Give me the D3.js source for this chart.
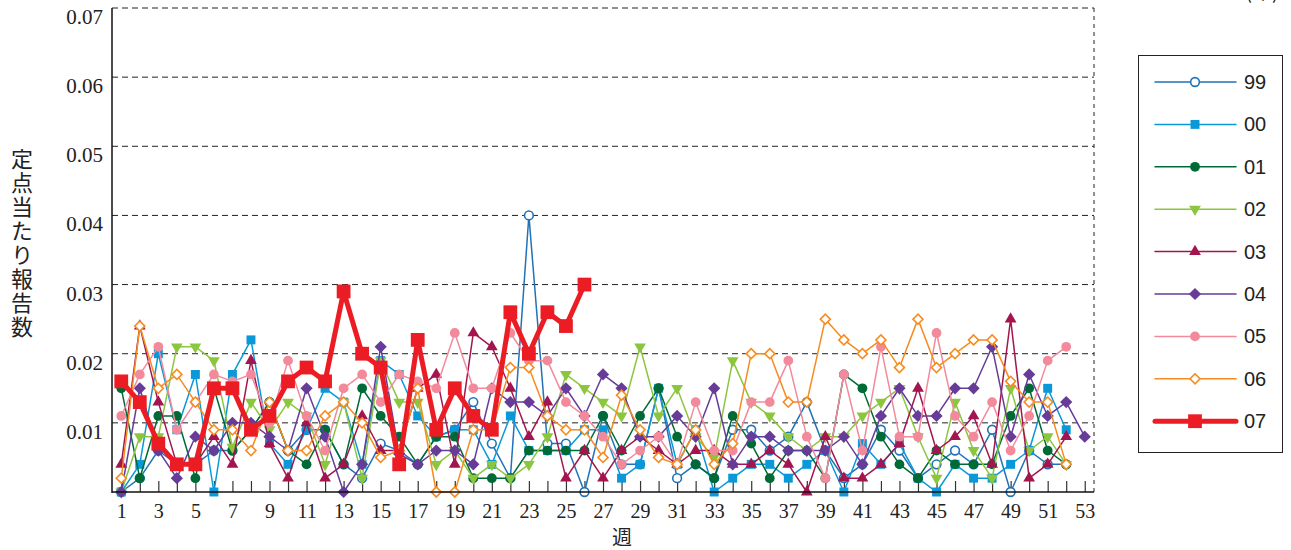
<!DOCTYPE html>
<html>
<head>
<meta charset="utf-8">
<script src="https://cdn.jsdelivr.net/npm/d3@7"></script>
<style>
  body { margin: 0; background: #fff; }
  svg { display: block; }
</style>
</head>
<body>
<div id="chart"></div>
<script>
// week-by-week values (index 0 = week 1)
var s99 = [0, 0.002, 0.006, 0.004, 0.004, 0.006, 0.006, 0.009, 0.013, 0.006, 0.009, 0.009, 0.004, 0.002, 0.007, 0.006, 0.004, 0.008, 0.009, 0.013, 0.007, 0.002, 0.040, 0.007, 0.007, 0, 0.011, 0.004, 0.004, 0.015, 0.002, 0.004, 0.002, 0.009, 0.009, 0.006, 0.008, 0.013, 0.006, 0.002, 0.004, 0.009, 0.006, 0.002, 0.004, 0.006, 0.004, 0.009, 0, 0.006, 0.004, 0.004];
var s00 = [0, 0.004, 0.020, 0.009, 0.017, 0, 0.017, 0.022, 0.007, 0.004, 0.009, 0.015, 0.013, 0.004, 0.019, 0.017, 0.011, 0.008, 0.009, 0.009, 0.004, 0.011, 0.006, 0.006, 0.006, 0.009, 0.009, 0.002, 0.004, 0.015, 0.004, 0.009, 0, 0.002, 0.004, 0.004, 0.002, 0.004, 0.006, 0, 0.007, 0.004, 0.007, 0.002, 0, 0.004, 0.002, 0.002, 0.004, 0.006, 0.015, 0.009];
var s01 = [0.015, 0.002, 0.011, 0.011, 0.002, 0.015, 0.006, 0.009, 0.013, 0.006, 0.004, 0.009, 0.004, 0.015, 0.011, 0.008, 0.004, 0.008, 0.008, 0.002, 0.002, 0.002, 0.006, 0.006, 0.006, 0.006, 0.011, 0.006, 0.011, 0.015, 0.008, 0.004, 0.002, 0.011, 0.007, 0.002, 0.006, 0.006, 0.002, 0.017, 0.015, 0.008, 0.004, 0.002, 0.006, 0.004, 0.004, 0.004, 0.011, 0.015, 0.006, 0.004];
var s02 = [0, 0.008, 0.008, 0.021, 0.021, 0.019, 0.0065, 0.013, 0.009, 0.013, 0.011, 0.004, 0.013, 0.002, 0.019, 0.013, 0.013, 0.004, 0.006, 0.002, 0.004, 0.002, 0.004, 0.008, 0.017, 0.015, 0.013, 0.011, 0.021, 0.011, 0.015, 0.008, 0.005, 0.019, 0.013, 0.011, 0.008, 0.006, 0.008, 0.008, 0.011, 0.013, 0.015, 0.008, 0.002, 0.013, 0.006, 0.002, 0.015, 0.006, 0.008, 0.004];
var s03 = [0.004, 0.024, 0.013, 0.004, 0.004, 0.008, 0.004, 0.019, 0.007, 0.002, 0.010, 0.002, 0.004, 0.011, 0.006, 0.006, 0.015, 0.017, 0.004, 0.023, 0.021, 0.015, 0.008, 0.013, 0.002, 0.006, 0.002, 0.006, 0.008, 0.006, 0.004, 0.006, 0.006, 0.004, 0.004, 0.006, 0.004, 0, 0.008, 0.002, 0.002, 0.004, 0.007, 0.015, 0.006, 0.008, 0.011, 0.004, 0.025, 0.002, 0.004, 0.008];
var s04 = [0, 0.015, 0.006, 0.002, 0.008, 0.006, 0.010, 0.010, 0.008, 0.006, 0.015, 0.008, 0, 0.004, 0.021, 0.0055, 0.004, 0.006, 0.006, 0.004, 0.015, 0.013, 0.013, 0.011, 0.015, 0.011, 0.017, 0.015, 0.008, 0.008, 0.011, 0.008, 0.015, 0.004, 0.008, 0.008, 0.006, 0.006, 0.006, 0.008, 0.004, 0.011, 0.015, 0.011, 0.011, 0.015, 0.015, 0.021, 0.008, 0.017, 0.011, 0.013, 0.008];
var s05 = [0.011, 0.017, 0.021, 0.009, 0.013, 0.017, 0.016, 0.017, 0.010, 0.019, 0.011, 0.006, 0.015, 0.017, 0.013, 0.017, 0.016, 0.015, 0.023, 0.015, 0.015, 0.023, 0.019, 0.019, 0.013, 0.011, 0.008, 0.004, 0.006, 0.008, 0.004, 0.013, 0.006, 0.006, 0.013, 0.013, 0.019, 0.008, 0.002, 0.017, 0.006, 0.021, 0.008, 0.008, 0.023, 0.011, 0.008, 0.013, 0.006, 0.011, 0.019, 0.021];
var s06 = [0.002, 0.024, 0.015, 0.017, 0.013, 0.009, 0.009, 0.006, 0.013, 0.006, 0.006, 0.011, 0.013, 0.010, 0.005, 0.006, 0.015, 0, 0, 0.009, 0.009, 0.018, 0.018, 0.011, 0.009, 0.009, 0.005, 0.014, 0.009, 0.005, 0.004, 0.009, 0.004, 0.007, 0.020, 0.020, 0.013, 0.013, 0.025, 0.022, 0.020, 0.022, 0.018, 0.025, 0.018, 0.020, 0.022, 0.022, 0.016, 0.013, 0.013, 0.004];
var s07 = [0.016, 0.013, 0.007, 0.004, 0.004, 0.015, 0.015, 0.009, 0.011, 0.016, 0.018, 0.016, 0.029, 0.020, 0.018, 0.004, 0.022, 0.009, 0.015, 0.011, 0.009, 0.026, 0.020, 0.026, 0.024, 0.030];

var yTicks = [0.01, 0.02, 0.03, 0.04, 0.05, 0.06, 0.07];
var yTitle = "定点当たり報告数";
var xTitle = "週";

var series = [
  {name: "99", values: s99, color: "#2272b8", shape: "circle", open: true, size: 60, lw: 1.5},
  {name: "00", values: s00, color: "#0a98d8", shape: "square", open: false, size: 80, lw: 1.5},
  {name: "01", values: s01, color: "#006a36", shape: "circle", open: false, size: 75, lw: 1.5},
  {name: "02", values: s02, color: "#8cc63f", shape: "down", open: false, size: 60, lw: 1.5},
  {name: "03", values: s03, color: "#a3154e", shape: "up", open: false, size: 60, lw: 1.5},
  {name: "04", values: s04, color: "#663c98", shape: "diamond", open: false, size: 75, lw: 1.5},
  {name: "05", values: s05, color: "#f28a9c", shape: "circle", open: false, size: 75, lw: 1.5},
  {name: "06", values: s06, color: "#f68b20", shape: "diamond", open: true, size: 50, lw: 1.5},
  {name: "07", values: s07, color: "#ec1c24", shape: "square", open: false, size: 190, lw: 5}
];

var width = 1291, height = 550;
var svg = d3.select("#chart").append("svg").attr("width", width).attr("height", height);

var x = d3.scaleLinear().domain([0.5, 53.5]).range([112, 1094]);
var y = d3.scaleLinear().domain([0, 0.07]).range([492, 8]);

function symbolPath(shape, size) {
  var t = d3.symbolCircle;
  if (shape == "square" || shape == "diamond") t = d3.symbolSquare;
  if (shape == "up" || shape == "down") t = d3.symbolTriangle;
  return d3.symbol().type(t).size(size)();
}
function symbolRot(shape) {
  if (shape == "down") return 180;
  if (shape == "diamond") return 45;
  return 0;
}

// grid
svg.append("g").selectAll("line").data(yTicks).enter().append("line")
  .attr("x1", x.range()[0]).attr("x2", x.range()[1])
  .attr("y1", function (d) { return y(d); }).attr("y2", function (d) { return y(d); })
  .style("stroke", "#222").style("stroke-width", 1).style("stroke-dasharray", "6,4");
svg.append("line")
  .attr("x1", x.range()[1]).attr("x2", x.range()[1]).attr("y1", y(0.07)).attr("y2", y(0))
  .style("stroke", "#222").style("stroke-width", 1).style("stroke-dasharray", "4,4");

// y labels
svg.append("g").selectAll("text").data(yTicks).enter().append("text")
  .attr("x", 103).attr("y", function (d) { return y(d) + 16; })
  .attr("text-anchor", "end")
  .style("font-family", "'Liberation Serif', 'Times New Roman', serif")
  .style("font-size", "21px").style("fill", "#222")
  .text(d3.format(".2f"));

// x axis
var xAxis = d3.axisBottom(x)
  .tickValues(d3.range(1, 54))
  .tickSize(-11).tickSizeOuter(0).tickPadding(12)
  .tickFormat(function (d) { return d % 2 ? d : ""; });
var gx = svg.append("g").attr("transform", "translate(0," + y(0) + ")").call(xAxis);
gx.select(".domain").remove();
gx.selectAll(".tick line").style("stroke", "#333").style("stroke-width", 1.2);
gx.selectAll("text")
  .style("font-family", "'Liberation Serif', 'Times New Roman', serif")
  .style("font-size", "20px").style("fill", "#222");

// lines + markers
var line = d3.line().x(function (d, i) { return x(i + 1); }).y(function (d) { return y(d); });
series.forEach(function (s) {
  var g = svg.append("g");
  g.append("path").datum(s.values).attr("d", line)
    .style("fill", "none").style("stroke", s.color).style("stroke-width", s.lw)
    .style("stroke-linejoin", "round");
  g.selectAll("path.m").data(s.values).enter().append("path").attr("class", "m")
    .attr("d", symbolPath(s.shape, s.size))
    .attr("transform", function (d, i) { return "translate(" + x(i + 1) + "," + y(d) + ") rotate(" + symbolRot(s.shape) + ")"; })
    .style("fill", s.open ? "#fff" : s.color)
    .style("stroke", s.color).style("stroke-width", s.open ? 1.6 : 0);
});

// axes frame
svg.append("line").attr("x1", x.range()[0]).attr("x2", x.range()[0]).attr("y1", y(0.07)).attr("y2", y(0) + 1)
  .style("stroke", "#111").style("stroke-width", 1.5);
svg.append("line").attr("x1", x.range()[0]).attr("x2", x.range()[1]).attr("y1", y(0)).attr("y2", y(0))
  .style("stroke", "#111").style("stroke-width", 1.5);

// titles
svg.append("text").attr("x", 22).attr("y", 148)
  .style("writing-mode", "vertical-rl")
  .style("text-orientation", "upright")
  .style("letter-spacing", "2px")
  .style("font-family", "'Noto Sans CJK JP', sans-serif")
  .style("font-size", "22px").style("fill", "#222")
  .text(yTitle);
svg.append("text").attr("x", 622).attr("y", 545).attr("text-anchor", "middle")
  .style("font-family", "'Noto Sans CJK JP', sans-serif")
  .style("font-size", "20px").style("fill", "#222").text(xTitle);
svg.append("text").attr("x", 1262).attr("y", -1).attr("text-anchor", "middle")
  .style("font-family", "'Noto Sans CJK JP', sans-serif")
  .style("font-size", "20px").style("fill", "#222").text("(年)");

// legend
var lg = svg.append("g");
lg.append("rect").attr("x", 1138.5).attr("y", 55.5).attr("width", 144).attr("height", 397)
  .style("fill", "#fff").style("stroke", "#222").style("stroke-width", 1);
series.forEach(function (s, i) {
  var ly = 82 + i * 42.4;
  lg.append("line").attr("x1", 1155).attr("x2", 1236).attr("y1", ly).attr("y2", ly)
    .style("stroke", s.color).style("stroke-width", s.lw).style("stroke-linecap", "round");
  lg.append("path").attr("d", symbolPath(s.shape, s.size))
    .attr("transform", "translate(1195," + ly + ") rotate(" + symbolRot(s.shape) + ")")
    .style("fill", s.open ? "#fff" : s.color)
    .style("stroke", s.color).style("stroke-width", s.open ? 1.6 : 0);
  lg.append("text").attr("x", 1244).attr("y", ly + 7)
    .style("font-family", "'Liberation Sans', Arial, sans-serif")
    .style("font-size", "20px").style("fill", "#222").text(s.name);
});
</script>
</body>
</html>
